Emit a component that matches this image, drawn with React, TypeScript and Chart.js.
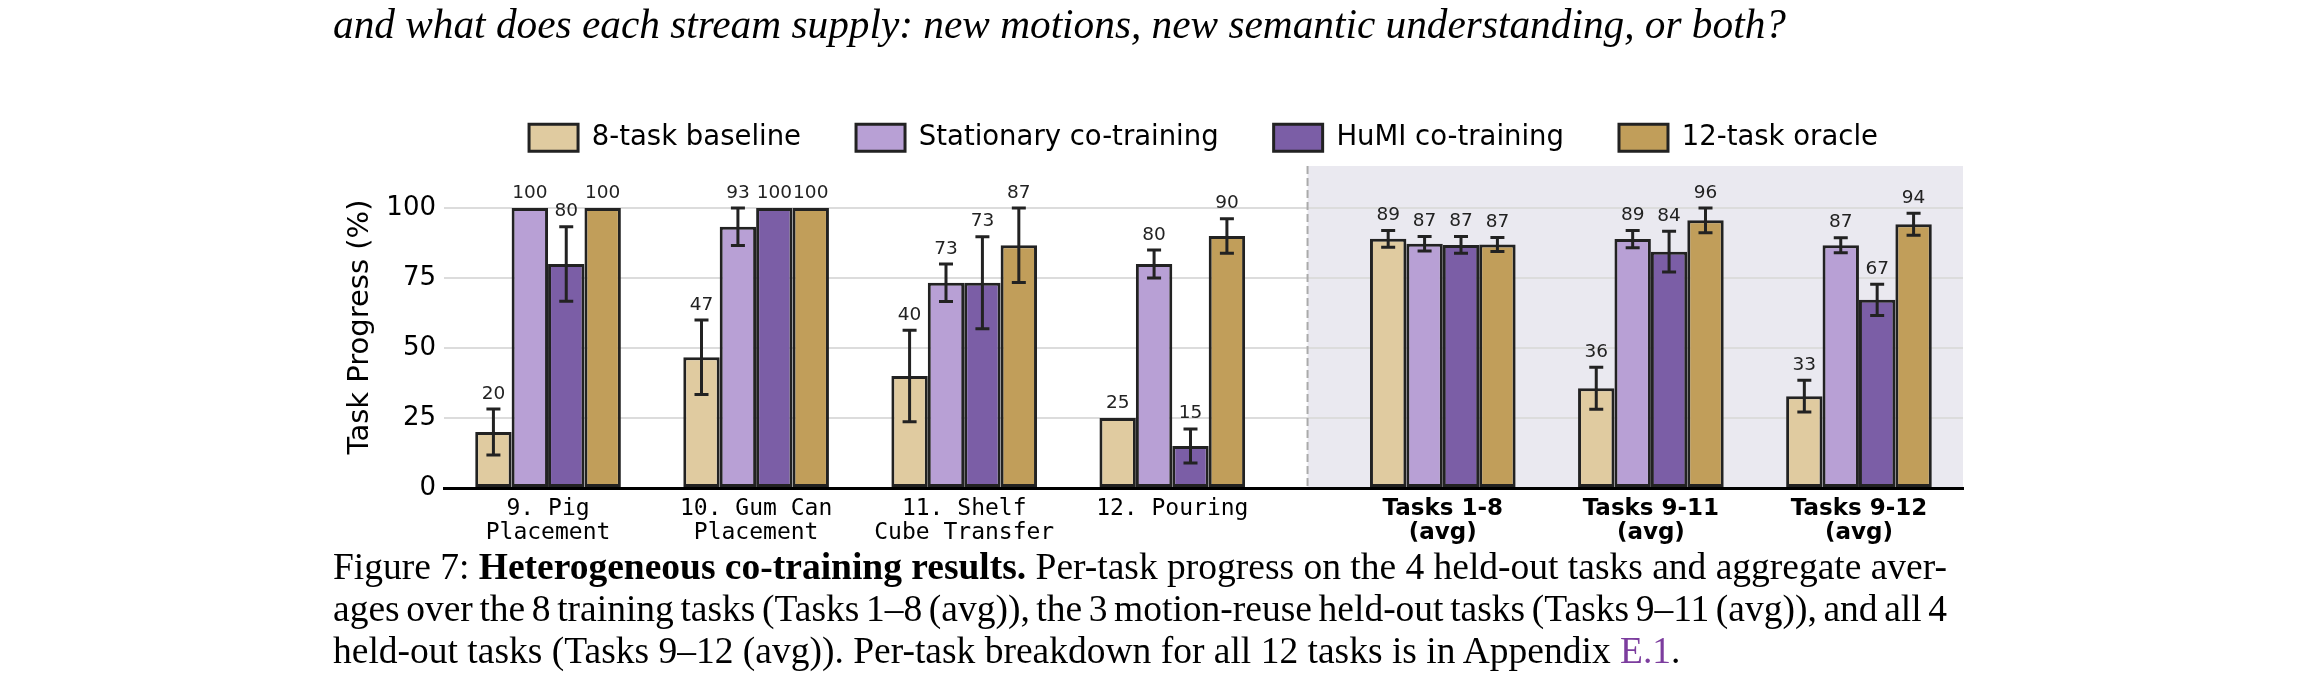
import React, { useEffect, useRef } from "react";
import { Chart, registerables } from "chart.js";

Chart.register(...registerables);

// ---------- data ----------
const tickLabels: string[][] = [
  ["9. Pig", "Placement"],
  ["10. Gum Can", "Placement"],
  ["11. Shelf", "Cube Transfer"],
  ["12. Pouring"],
  ["Tasks 1-8", "(avg)"],
  ["Tasks 9-11", "(avg)"],
  ["Tasks 9-12", "(avg)"],
];
// group centres on the x axis (gap before the averages)
const groupX = [0, 1, 2, 3, 4.3, 5.3, 6.3];
const dividerX = 3.65;
const xMin = -0.5;
const xMax = 6.8;

const seriesNames = ["8-task baseline", "Stationary co-training", "HuMI co-training", "12-task oracle"];
const baselineVals = [20, 46.7, 40, 25, 89, 35.6, 32.8];
const stationaryVals = [100, 93.3, 73.3, 80, 87.2, 88.9, 86.7];
const humiVals = [80, 100, 73.3, 15, 86.8, 84.4, 67.2];
const oracleVals = [100, 100, 86.7, 90, 87, 95.6, 94.2];

const baselineErr = [8.2, 13.3, 16.3, 0, 3, 7.5, 5.7];
const stationaryErr = [0, 6.7, 6.7, 5, 2.6, 3.1, 2.7];
const humiErr = [13.3, 0, 16.4, 6.1, 3, 7.3, 5.6];
const oracleErr = [0, 0, 13.3, 6.2, 2.5, 4.4, 3.9];

const yTicks = [0, 25, 50, 75, 100];
const yMax = 115;

const seriesColors = ["#E0CBA0", "#B8A0D5", "#7B5EA6", "#C19E5A"];
const allVals = [baselineVals, stationaryVals, humiVals, oracleVals];
const allErr = [baselineErr, stationaryErr, humiErr, oracleErr];

const INK = "#222222";

const legendSpacer = {
  id: "legendSpacer",
  beforeInit(chart: any) {
    const orig = chart.legend.fit;
    chart.legend.fit = function () {
      orig.call(this);
      this.height += 4.5;
    };
  },
};

const shadePlugin = {
  id: "shade",
  beforeDraw(chart: any) {
    const { ctx, chartArea, scales } = chart;
    const x0 = scales.x.getPixelForValue(dividerX);
    ctx.save();
    ctx.fillStyle = "#EAE9F0";
    ctx.fillRect(x0, chartArea.top, chartArea.right - x0, chartArea.bottom - chartArea.top);
    ctx.restore();
  },
  beforeDatasetsDraw(chart: any) {
    const { ctx, chartArea, scales } = chart;
    const x0 = scales.x.getPixelForValue(dividerX);
    ctx.save();
    ctx.strokeStyle = "#AAAAAA";
    ctx.lineWidth = 2;
    ctx.setLineDash([8, 4]);
    ctx.beginPath();
    ctx.moveTo(x0, chartArea.top);
    ctx.lineTo(x0, chartArea.bottom);
    ctx.stroke();
    ctx.restore();
  },
};

const errorLabelPlugin = {
  id: "errorLabels",
  afterDatasetsDraw(chart: any) {
    const { ctx, scales } = chart;
    const y = scales.y;
    ctx.save();
    chart.data.datasets.forEach((ds: any, di: number) => {
      const meta = chart.getDatasetMeta(di);
      const errs = allErr[di];
      meta.data.forEach((el: any, i: number) => {
        const v = allVals[di][i];
        const e = errs[i];
        const cx = el.x;
        let topPx = y.getPixelForValue(v);
        if (e > 0) {
          const hi = y.getPixelForValue(v + e);
          const lo = y.getPixelForValue(v - e);
          ctx.strokeStyle = INK;
          ctx.lineWidth = 3;
          ctx.beginPath();
          ctx.moveTo(cx, hi);
          ctx.lineTo(cx, lo);
          ctx.moveTo(cx - 7, hi);
          ctx.lineTo(cx + 7, hi);
          ctx.moveTo(cx - 7, lo);
          ctx.lineTo(cx + 7, lo);
          ctx.stroke();
          topPx = Math.min(topPx, hi);
        }
        ctx.fillStyle = INK;
        ctx.font = '18.5px "DejaVu Sans"';
        ctx.textAlign = "center";
        ctx.textBaseline = "bottom";
        ctx.fillText(String(Math.round(v)), cx, topPx - 6);
      });
    });
    ctx.restore();
  },
};

export default function App() {
  const ref = useRef<HTMLCanvasElement>(null);

  useEffect(() => {
    const datasets = seriesNames.map((name, si) => ({
      label: name,
      data: groupX.map((gx, i) => ({ x: gx, y: allVals[si][i] })),
      backgroundColor: seriesColors[si],
      borderColor: INK,
      borderWidth: 3,
      borderSkipped: false,
      categoryPercentage: 0.7,
      barPercentage: 1.0,
    }));

    const chart = new Chart(ref.current as HTMLCanvasElement, {
      type: "bar",
      data: { datasets } as any,
      options: {
        responsive: false,
        animation: false,
        events: [],
        layout: { padding: { left: 343, right: 347, top: 69, bottom: 132 } },
        plugins: {
          tooltip: { enabled: false },
          legend: {
            display: true,
            position: "top",
            fullSize: false,
            align: "center",
            labels: {
              boxWidth: 49,
              boxHeight: 27,
              padding: 55,
              color: "#000",
              font: { family: "DejaVu Sans", size: 27.5 },
            },
          },
        },
        scales: {
          x: {
            type: "linear",
            min: xMin,
            max: xMax,
            offset: false,
            grid: { display: false, drawTicks: false },
            border: { display: true, color: "#000", width: 3 },
            afterBuildTicks: (scale: any) => {
              scale.ticks = groupX.map((v) => ({ value: v }));
            },
            afterFit: (scale: any) => {
              scale.height = 80;
            },
            ticks: {
              autoSkip: false,
              maxRotation: 0,
              minRotation: 0,
              padding: 9,
              color: "#000",
              callback: (_v: any, i: number) => tickLabels[i],
              font: (ctx: any) =>
                ctx.index < 4
                  ? { family: "DejaVu Sans Mono", size: 23, lineHeight: 1.05 }
                  : { family: "DejaVu Sans", size: 23, weight: "bold", lineHeight: 1.05 },
            },
          },
          y: {
            min: 0,
            max: yMax,
            afterBuildTicks: (scale: any) => {
              scale.ticks = yTicks.map((v) => ({ value: v }));
            },
            afterFit: (scale: any) => {
              scale.width = 101;
            },
            grid: { color: "#DCDCDC", lineWidth: 2, drawTicks: false },
            border: { display: false },
            ticks: {
              padding: 8,
              color: "#000",
              font: { family: "DejaVu Sans", size: 26 },
            },
            title: {
              display: true,
              text: "Task Progress (%)",
              color: "#000",
              font: { family: "DejaVu Sans", size: 29 },
              padding: { top: 0, bottom: 0 },
            },
          },
        },
      } as any,
      plugins: [legendSpacer, shadePlugin, errorLabelPlugin],
    });
    return () => chart.destroy();
  }, []);

  const serif = '"Liberation Serif", "Times New Roman", serif';
  const capLine: React.CSSProperties = {
    position: "absolute",
    left: 333,
    width: 1614,
    fontFamily: serif,
    fontSize: 37.5,
    lineHeight: "42px",
    color: "#000",
    whiteSpace: "nowrap",
    wordSpacing: -4,
    textAlign: "justify",
    textAlignLast: "justify" as any,
  };

  return (
    <div style={{ position: "absolute", left: 0, top: 0, width: 2310, height: 700, background: "#fff", overflow: "hidden" }}>
      <canvas
        ref={ref}
        width={2310}
        height={700}
        style={{ position: "absolute", left: 0, top: 0, width: 2310, height: 700 }}
      />
      <div
        style={{
          position: "absolute",
          left: 333,
          top: 0,
          fontFamily: serif,
          fontStyle: "italic",
          fontSize: 41.3,
          lineHeight: "48px",
          whiteSpace: "nowrap",
          color: "#000",
        }}
      >
        and what does each stream supply: new motions, new semantic understanding, or both?
      </div>
      <div style={{ ...capLine, top: 546 }}>
        Figure 7: <b>Heterogeneous co-training results.</b> Per-task progress on the 4 held-out tasks and aggregate aver-
      </div>
      <div style={{ ...capLine, top: 588 }}>
        ages over the 8 training tasks (Tasks 1–8 (avg)), the 3 motion-reuse held-out tasks (Tasks 9–11 (avg)), and all 4
      </div>
      <div style={{ ...capLine, top: 630, wordSpacing: 0, textAlign: "left", textAlignLast: "left" as any }}>
        held-out tasks (Tasks 9–12 (avg)). Per-task breakdown for all 12 tasks is in Appendix{" "}
        <span style={{ color: "#7C3D9E" }}>E.1</span>.
      </div>
    </div>
  );
}
